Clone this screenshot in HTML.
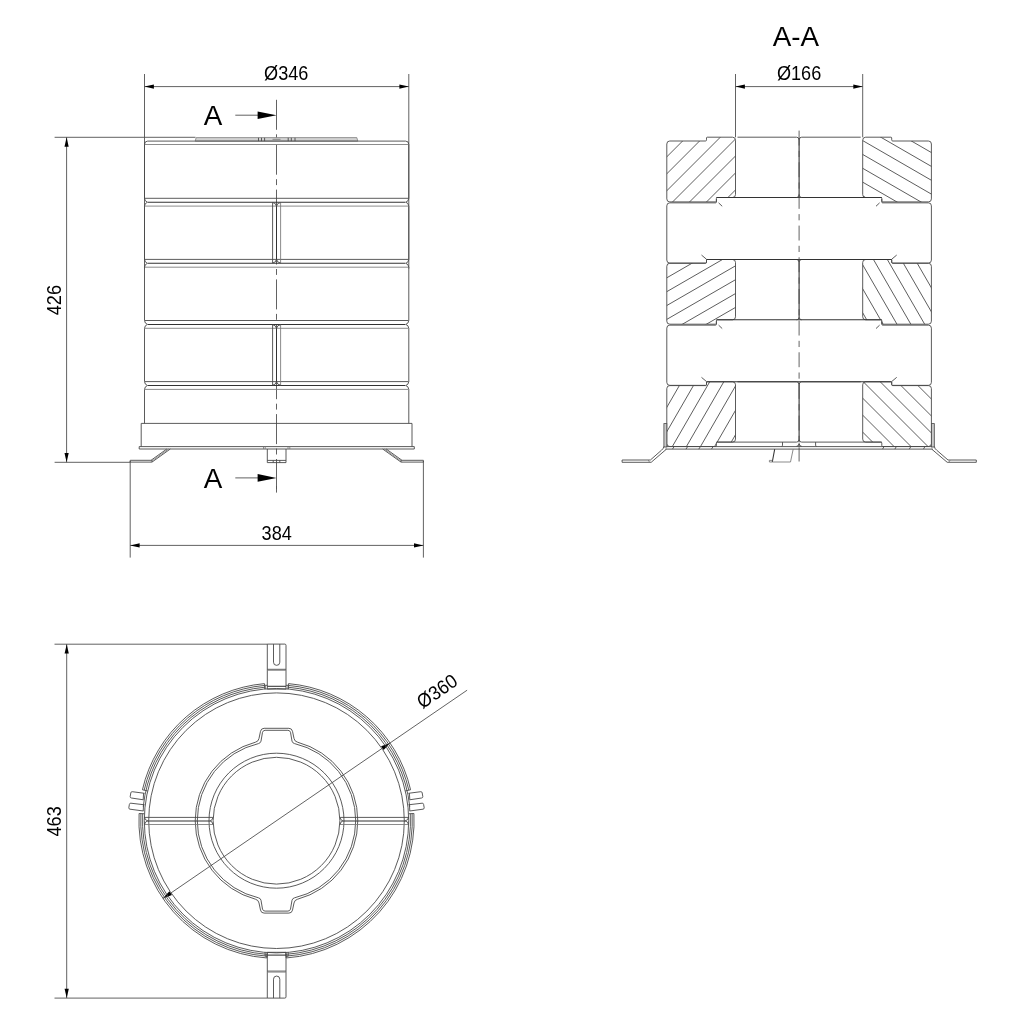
<!DOCTYPE html>
<html lang="en">
<head>
<meta charset="utf-8">
<title>Drawing</title>
<style>
html,body{margin:0;padding:0;background:#fff;}
body{width:1024px;height:1024px;overflow:hidden;}
svg{display:block;will-change:transform;}
.l{stroke:#484848;stroke-width:0.9;fill:none;stroke-linecap:butt;stroke-linejoin:round;}
.k{stroke:#333;stroke-width:1.05;fill:none;}
.f{stroke:#777;stroke-width:0.85;fill:none;}
.d{stroke:#505050;stroke-width:0.9;fill:none;}
.h{stroke:#404040;stroke-width:0.85;fill:none;}
.c{stroke:#505050;stroke-width:0.9;fill:none;stroke-dasharray:30.0 4.5 5.9 4.5;}
.c2{stroke:#505050;stroke-width:0.9;fill:none;stroke-dasharray:14.9 5.3 6.2 5.27;}
.m{stroke:#333;stroke-width:1.1;fill:none;}
.g{fill:#c9c9c9;stroke:#484848;stroke-width:0.8;}
.g2{fill:#d2d2d2;stroke:#808080;stroke-width:0.8;}
.a{fill:#000;stroke:none;}
.t{font-family:"Liberation Sans",sans-serif;fill:#000;}
</style>
</head>
<body>
<svg width="1024" height="1024" viewBox="0 0 1024 1024">
<rect x="0" y="0" width="1024" height="1024" fill="#ffffff"/>
<line class="d" x1="144.50" y1="74.00" x2="144.50" y2="268.50" />
<line class="d" x1="408.80" y1="74.00" x2="408.80" y2="268.50" />
<line class="d" x1="144.50" y1="86.60" x2="408.80" y2="86.60" />
<polygon class="a" points="144.50,86.60 153.90,84.50 153.90,88.70"/>
<polygon class="a" points="408.80,86.60 399.40,88.70 399.40,84.50"/>
<text class="t" transform="translate(286.20 79.90) scale(0.93 1)" font-size="19.5" text-anchor="middle">Ø346</text>
<line class="d" x1="54.60" y1="137.30" x2="195.50" y2="137.30" />
<line class="d" x1="54.60" y1="462.30" x2="130.30" y2="462.30" />
<line class="d" x1="66.60" y1="137.30" x2="66.60" y2="462.30" />
<polygon class="a" points="66.60,137.30 68.70,146.70 64.50,146.70"/>
<polygon class="a" points="66.60,462.30 64.50,452.90 68.70,452.90"/>
<text class="t" transform="translate(60.70 300.10) rotate(-90.00) scale(0.93 1)" font-size="19.5" text-anchor="middle">426</text>
<line class="d" x1="130.20" y1="461.00" x2="130.20" y2="557.60" />
<line class="d" x1="423.40" y1="461.00" x2="423.40" y2="557.60" />
<line class="d" x1="130.20" y1="545.40" x2="423.40" y2="545.40" />
<polygon class="a" points="130.20,545.40 139.60,543.30 139.60,547.50"/>
<polygon class="a" points="423.40,545.40 414.00,547.50 414.00,543.30"/>
<text class="t" transform="translate(276.70 539.50) scale(0.93 1)" font-size="19.5" text-anchor="middle">384</text>
<line class="d" x1="235.30" y1="115.20" x2="260.00" y2="115.20" />
<polygon class="a" points="276.50,115.20 257.60,119.00 257.60,111.40"/>
<text class="t" transform="translate(213.10 124.70) scale(1.0 1)" font-size="27.8" text-anchor="middle">A</text>
<line class="d" x1="235.30" y1="477.90" x2="260.00" y2="477.90" />
<polygon class="a" points="276.50,477.90 257.60,481.70 257.60,474.10"/>
<text class="t" transform="translate(213.10 487.70) scale(1.0 1)" font-size="27.8" text-anchor="middle">A</text>
<line class="c" x1="276.50" y1="99.80" x2="276.50" y2="492.20" />
<line class="d" x1="276.50" y1="486.00" x2="276.50" y2="492.60" />
<path class="g2" d="M195.2,141.1 L196.2,137.6 L356.8,137.6 L357.8,141.1 Z"/>
<line class="l" x1="258.50" y1="137.80" x2="258.50" y2="141.10" />
<line class="l" x1="261.50" y1="137.80" x2="261.50" y2="141.10" />
<line class="l" x1="264.60" y1="137.80" x2="264.60" y2="141.10" />
<line class="l" x1="288.20" y1="137.80" x2="288.20" y2="141.10" />
<line class="l" x1="291.30" y1="137.80" x2="291.30" y2="141.10" />
<line class="l" x1="295.00" y1="137.80" x2="295.00" y2="141.10" />
<line class="f" x1="272.50" y1="139.30" x2="280.50" y2="139.30" />
<path class="l" d="M147.7,141.1 Q144.5,141.1 144.5,144.5 L144.5,198.2 Q144.7,201.39999999999998 147.5,202.2 Q144.7,203.0 144.5,206.2 L144.5,259.3 Q144.7,262.5 147.5,263.3 Q144.7,264.1 144.5,267.3 L144.5,320.4 Q144.7,323.59999999999997 147.5,324.4 Q144.7,325.2 144.5,328.4 L144.5,381.5 Q144.7,384.7 147.5,385.5 Q144.7,386.3 144.5,389.5 L144.5,423.4" />
<path class="l" d="M405.6,141.1 Q408.8,141.1 408.8,144.5 L408.8,198.2 Q408.6,201.39999999999998 405.8,202.2 Q408.6,203.0 408.8,206.2 L408.8,259.3 Q408.6,262.5 405.8,263.3 Q408.6,264.1 408.8,267.3 L408.8,320.4 Q408.6,323.59999999999997 405.8,324.4 Q408.6,325.2 408.8,328.4 L408.8,381.5 Q408.6,384.7 405.8,385.5 Q408.6,386.3 408.8,389.5 L408.8,423.4" />
<line class="l" x1="147.70" y1="141.10" x2="405.60" y2="141.10" />
<line class="f" x1="144.80" y1="144.50" x2="408.50" y2="144.50" />
<line class="l" x1="144.80" y1="198.30" x2="408.50" y2="198.30" />
<line class="k" x1="147.90" y1="202.20" x2="405.40" y2="202.20" />
<line class="f" x1="144.80" y1="206.10" x2="408.50" y2="206.10" />
<line class="l" x1="144.80" y1="259.40" x2="408.50" y2="259.40" />
<line class="k" x1="147.90" y1="263.30" x2="405.40" y2="263.30" />
<line class="f" x1="144.80" y1="267.20" x2="408.50" y2="267.20" />
<line class="l" x1="144.80" y1="320.50" x2="408.50" y2="320.50" />
<line class="k" x1="147.90" y1="324.40" x2="405.40" y2="324.40" />
<line class="f" x1="144.80" y1="328.30" x2="408.50" y2="328.30" />
<line class="l" x1="144.80" y1="381.60" x2="408.50" y2="381.60" />
<line class="k" x1="147.90" y1="385.50" x2="405.40" y2="385.50" />
<line class="f" x1="144.80" y1="389.40" x2="408.50" y2="389.40" />
<line class="l" x1="272.60" y1="202.50" x2="272.60" y2="263.00" />
<line class="f" x1="280.60" y1="202.50" x2="280.60" y2="263.00" />
<path class="l" d="M272.6,202.5 Q275.9,202.79999999999998 276.5,206.2 Q277.1,202.79999999999998 280.6,202.5" />
<path class="l" d="M272.6,263.0 Q275.9,262.7 276.5,259.3 Q277.1,262.7 280.6,263.0" />
<line class="k" x1="276.50" y1="206.20" x2="276.50" y2="259.30" />
<line class="l" x1="272.60" y1="324.70" x2="272.60" y2="385.20" />
<line class="f" x1="280.60" y1="324.70" x2="280.60" y2="385.20" />
<path class="l" d="M272.6,324.7 Q275.9,325.0 276.5,328.4 Q277.1,325.0 280.6,324.7" />
<path class="l" d="M272.6,385.2 Q275.9,384.9 276.5,381.5 Q277.1,384.9 280.6,385.2" />
<line class="k" x1="276.50" y1="328.40" x2="276.50" y2="381.50" />
<path class="l" d="M141.2,423.4 L412.0,423.4 L412.0,446.6 M141.2,423.4 L141.2,446.6" />
<path class="l" d="M139.2,446.6 L414.3,446.6 L414.3,449.0 L139.2,449.0 Z" />
<path class="l" d="M170.3,449.0 L152.0,462.1 L130.2,462.1 L130.2,460.3 L151.0,460.3 L166.8,449.0" />
<line class="l" x1="151.00" y1="460.30" x2="152.60" y2="461.60" />
<line class="f" x1="168.60" y1="449.00" x2="150.80" y2="461.80" />
<path class="l" d="M382.7,449.0 L401.0,462.1 L423.4,462.1 L423.4,460.3 L402.0,460.3 L386.2,449.0" />
<line class="l" x1="402.00" y1="460.30" x2="400.40" y2="461.60" />
<line class="f" x1="384.40" y1="449.00" x2="402.20" y2="461.80" />
<path class="l" d="M267.3,449.0 L267.3,462.6 L286.0,462.6 L286.0,449.0" />
<line class="l" x1="267.30" y1="460.40" x2="286.00" y2="460.40" />
<line class="l" x1="273.20" y1="460.40" x2="273.20" y2="462.60" />
<line class="l" x1="279.80" y1="460.40" x2="279.80" y2="462.60" />
<line class="f" x1="263.50" y1="446.60" x2="263.50" y2="449.00" />
<line class="f" x1="265.20" y1="446.60" x2="265.20" y2="449.00" />
<line class="f" x1="288.00" y1="446.60" x2="288.00" y2="449.00" />
<line class="f" x1="289.80" y1="446.60" x2="289.80" y2="449.00" />
<text class="t" transform="translate(795.80 46.30) scale(1.0 1)" font-size="27.8" text-anchor="middle">A-A</text>
<text class="t" transform="translate(799.10 79.80) scale(0.93 1)" font-size="19.5" text-anchor="middle">Ø166</text>
<line class="d" x1="735.50" y1="74.00" x2="735.50" y2="137.30" />
<line class="d" x1="862.70" y1="74.00" x2="862.70" y2="137.30" />
<line class="d" x1="735.50" y1="86.60" x2="862.70" y2="86.60" />
<polygon class="a" points="735.50,86.60 744.90,84.50 744.90,88.70"/>
<polygon class="a" points="862.70,86.60 853.30,88.70 853.30,84.50"/>
<defs>
<clipPath id="c0l"><path d="M666.8,144.0 Q666.8,141.0 669.8,141.0 L705.5,141.0 Q706.5,141.0 706.5,139.8 L706.5,138.0 Q706.5,137.2 707.3,137.2 L732.5,137.2 Q735.5,137.2 735.5,140.2 L735.5,194.5 Q735.5,197.5 732.5,197.5 L717.4,197.5 Q716.4,197.5 716.4,198.5 L716.4,201.1 Q716.4,201.9 715.6,201.9 L669.8,201.9 Q666.8,201.9 666.8,198.9 Z"/></clipPath>
<clipPath id="c0r"><path d="M931.4000000000001,144.0 Q931.4000000000001,141.0 928.4000000000001,141.0 L892.7,141.0 Q891.7,141.0 891.7,139.8 L891.7,138.0 Q891.7,137.2 890.9000000000001,137.2 L865.7,137.2 Q862.7,137.2 862.7,140.2 L862.7,194.5 Q862.7,197.5 865.7,197.5 L880.8000000000001,197.5 Q881.8000000000001,197.5 881.8000000000001,198.5 L881.8000000000001,201.1 Q881.8000000000001,201.9 882.6,201.9 L928.4000000000001,201.9 Q931.4000000000001,201.9 931.4000000000001,198.9 Z"/></clipPath>
<clipPath id="c2l"><path d="M666.8,266.3 Q666.8,263.3 669.8,263.3 L705.5,263.3 Q706.5,263.3 706.5,262.1 L706.5,260.3 Q706.5,259.5 707.3,259.5 L732.5,259.5 Q735.5,259.5 735.5,262.5 L735.5,316.8 Q735.5,319.8 732.5,319.8 L717.4,319.8 Q716.4,319.8 716.4,320.8 L716.4,323.4 Q716.4,324.2 715.6,324.2 L669.8,324.2 Q666.8,324.2 666.8,321.2 Z"/></clipPath>
<clipPath id="c2r"><path d="M931.4000000000001,266.3 Q931.4000000000001,263.3 928.4000000000001,263.3 L892.7,263.3 Q891.7,263.3 891.7,262.1 L891.7,260.3 Q891.7,259.5 890.9000000000001,259.5 L865.7,259.5 Q862.7,259.5 862.7,262.5 L862.7,316.8 Q862.7,319.8 865.7,319.8 L880.8000000000001,319.8 Q881.8000000000001,319.8 881.8000000000001,320.8 L881.8000000000001,323.4 Q881.8000000000001,324.2 882.6,324.2 L928.4000000000001,324.2 Q931.4000000000001,324.2 931.4000000000001,321.2 Z"/></clipPath>
<clipPath id="c4l"><path d="M666.8,388.6 Q666.8,385.6 669.8,385.6 L705.5,385.6 Q706.5,385.6 706.5,384.40000000000003 L706.5,382.6 Q706.5,381.8 707.3,381.8 L732.5,381.8 Q735.5,381.8 735.5,384.8 L735.5,439.1 Q735.5,442.1 732.5,442.1 L717.4,442.1 Q716.4,442.1 716.4,443.1 L716.4,445.7 Q716.4,446.5 715.6,446.5 L669.8,446.5 Q666.8,446.5 666.8,443.5 Z"/></clipPath>
<clipPath id="c4r"><path d="M931.4000000000001,388.6 Q931.4000000000001,385.6 928.4000000000001,385.6 L892.7,385.6 Q891.7,385.6 891.7,384.40000000000003 L891.7,382.6 Q891.7,381.8 890.9000000000001,381.8 L865.7,381.8 Q862.7,381.8 862.7,384.8 L862.7,439.1 Q862.7,442.1 865.7,442.1 L880.8000000000001,442.1 Q881.8000000000001,442.1 881.8000000000001,443.1 L881.8000000000001,445.7 Q881.8000000000001,446.5 882.6,446.5 L928.4000000000001,446.5 Q931.4000000000001,446.5 931.4000000000001,443.5 Z"/></clipPath>
</defs>
<path class="h" clip-path="url(#c0l)" d="M441.74,144.27 L653.87,-67.86 M450.23,152.76 L662.36,-59.37 M458.71,161.24 L670.84,-50.89 M467.20,169.73 L679.33,-42.40 M475.68,178.21 L687.81,-33.92 M484.17,186.70 L696.30,-25.43 M492.65,195.18 L704.78,-16.95 M501.14,203.67 L713.27,-8.46 M509.62,212.15 L721.75,0.02 M518.11,220.64 L730.24,8.51 M526.59,229.12 L738.72,16.99 M535.08,237.61 L747.21,25.48 M543.56,246.10 L755.70,33.96 M552.05,254.58 L764.18,42.45 M560.53,263.07 L772.67,50.93 M569.02,271.55 L781.15,59.42 M577.50,280.04 L789.64,67.90 M585.99,288.52 L798.12,76.39 M594.48,297.01 L806.61,84.88 M602.96,305.49 L815.09,93.36 M611.45,313.98 L823.58,101.85 M619.93,322.46 L832.06,110.33 M628.42,330.95 L840.55,118.82 M636.90,339.43 L849.03,127.30 M645.39,347.92 L857.52,135.79 M653.87,356.40 L866.00,144.27 M662.36,364.89 L874.49,152.76 M670.84,373.37 L882.97,161.24 M679.33,381.86 L891.46,169.73"/>
<path class="l" d="M666.8,144.0 Q666.8,141.0 669.8,141.0 L705.5,141.0 Q706.5,141.0 706.5,139.8 L706.5,138.0 Q706.5,137.2 707.3,137.2 L732.5,137.2 Q735.5,137.2 735.5,140.2 L735.5,194.5 Q735.5,197.5 732.5,197.5 L717.4,197.5 Q716.4,197.5 716.4,198.5 L716.4,201.1 Q716.4,201.9 715.6,201.9 L669.8,201.9 Q666.8,201.9 666.8,198.9 Z" />
<path class="h" clip-path="url(#c0r)" d="M816.80,-79.89 L1076.60,70.11 M810.80,-69.50 L1070.60,80.50 M804.80,-59.11 L1064.60,90.89 M798.80,-48.72 L1058.60,101.28 M792.80,-38.32 L1052.60,111.68 M786.80,-27.93 L1046.60,122.07 M780.80,-17.54 L1040.60,132.46 M774.80,-7.15 L1034.60,142.85 M768.80,3.25 L1028.60,153.25 M762.80,13.64 L1022.60,163.64 M756.80,24.03 L1016.60,174.03 M750.80,34.42 L1010.60,184.42 M744.80,44.82 L1004.60,194.82 M738.80,55.21 L998.60,205.21 M732.80,65.60 L992.60,215.60 M726.80,75.99 L986.60,225.99 M720.80,86.38 L980.60,236.38 M714.80,96.78 L974.60,246.78 M708.80,107.17 L968.60,257.17 M702.80,117.56 L962.60,267.56 M696.80,127.95 L956.60,277.95 M690.80,138.35 L950.60,288.35 M684.80,148.74 L944.60,298.74 M678.80,159.13 L938.60,309.13 M672.80,169.52 L932.60,319.52 M666.80,179.92 L926.60,329.92 M660.80,190.31 L920.60,340.31 M654.80,200.70 L914.60,350.70 M648.80,211.09 L908.60,361.09"/>
<path class="l" d="M931.4000000000001,144.0 Q931.4000000000001,141.0 928.4000000000001,141.0 L892.7,141.0 Q891.7,141.0 891.7,139.8 L891.7,138.0 Q891.7,137.2 890.9000000000001,137.2 L865.7,137.2 Q862.7,137.2 862.7,140.2 L862.7,194.5 Q862.7,197.5 865.7,197.5 L880.8000000000001,197.5 Q881.8000000000001,197.5 881.8000000000001,198.5 L881.8000000000001,201.1 Q881.8000000000001,201.9 882.6,201.9 L928.4000000000001,201.9 Q931.4000000000001,201.9 931.4000000000001,198.9 Z" />
<line class="l" x1="737.50" y1="137.20" x2="796.50" y2="137.20" />
<line class="l" x1="801.70" y1="137.20" x2="860.70" y2="137.20" />
<line class="k" x1="716.40" y1="197.50" x2="881.80" y2="197.50" />
<line class="m" x1="799.10" y1="138.20" x2="799.10" y2="196.50" />
<path class="l" d="M796.5,137.2 Q798.8000000000001,137.2 798.9,139.39999999999998 M801.7,137.2 Q799.4,137.2 799.3000000000001,139.39999999999998" />
<path class="l" d="M796.5,197.5 Q798.8000000000001,197.5 798.9,195.3 M801.7,197.5 Q799.4,197.5 799.3000000000001,195.3" />
<path class="l" d="M716.4,199.04999999999998 L716.4,202.04999999999998 Q716.4,202.85 715.6,202.85 L669.8,202.85 Q666.8,202.85 666.8,205.85 L666.8,260.05 Q666.8,263.05 669.8,263.05 L705.7,263.05 Q706.5,263.05 706.5,262.25 L706.5,259.65" />
<line class="l" x1="718.60" y1="202.85" x2="722.20" y2="206.25" />
<line class="l" x1="706.50" y1="259.25" x2="701.50" y2="255.05" />
<path class="l" d="M881.8000000000001,199.04999999999998 L881.8000000000001,202.04999999999998 Q881.8000000000001,202.85 882.6,202.85 L928.4000000000001,202.85 Q931.4000000000001,202.85 931.4000000000001,205.85 L931.4000000000001,260.05 Q931.4000000000001,263.05 928.4000000000001,263.05 L892.5,263.05 Q891.7,263.05 891.7,262.25 L891.7,259.65" />
<line class="l" x1="879.60" y1="202.85" x2="876.00" y2="206.25" />
<line class="l" x1="891.70" y1="259.25" x2="896.70" y2="255.05" />
<path class="h" clip-path="url(#c2l)" d="M452.90,207.31 L712.70,57.31 M458.90,217.70 L718.70,67.70 M464.90,228.09 L724.70,78.09 M470.90,238.48 L730.70,88.48 M476.90,248.88 L736.70,98.88 M482.90,259.27 L742.70,109.27 M488.90,269.66 L748.70,119.66 M494.90,280.05 L754.70,130.05 M500.90,290.45 L760.70,140.45 M506.90,300.84 L766.70,150.84 M512.90,311.23 L772.70,161.23 M518.90,321.62 L778.70,171.62 M524.90,332.02 L784.70,182.02 M530.90,342.41 L790.70,192.41 M536.90,352.80 L796.70,202.80 M542.90,363.19 L802.70,213.19 M548.90,373.58 L808.70,223.58 M554.90,383.98 L814.70,233.98 M560.90,394.37 L820.70,244.37 M566.90,404.76 L826.70,254.76 M572.90,415.15 L832.70,265.15 M578.90,425.55 L838.70,275.55 M584.90,435.94 L844.70,285.94 M590.90,446.33 L850.70,296.33 M596.90,456.72 L856.70,306.72 M602.90,467.12 L862.70,317.12 M608.90,477.51 L868.70,327.51 M614.90,487.90 L874.70,337.90 M620.90,498.29 L880.70,348.29"/>
<path class="l" d="M666.8,266.3 Q666.8,263.3 669.8,263.3 L705.5,263.3 Q706.5,263.3 706.5,262.1 L706.5,260.3 Q706.5,259.5 707.3,259.5 L732.5,259.5 Q735.5,259.5 735.5,262.5 L735.5,316.8 Q735.5,319.8 732.5,319.8 L717.4,319.8 Q716.4,319.8 716.4,320.8 L716.4,323.4 Q716.4,324.2 715.6,324.2 L669.8,324.2 Q666.8,324.2 666.8,321.2 Z" />
<path class="h" clip-path="url(#c2r)" d="M932.99,50.60 L1082.99,310.40 M922.60,56.60 L1072.60,316.40 M912.21,62.60 L1062.21,322.40 M901.82,68.60 L1051.82,328.40 M891.42,74.60 L1041.42,334.40 M881.03,80.60 L1031.03,340.40 M870.64,86.60 L1020.64,346.40 M860.25,92.60 L1010.25,352.40 M849.85,98.60 L999.85,358.40 M839.46,104.60 L989.46,364.40 M829.07,110.60 L979.07,370.40 M818.68,116.60 L968.68,376.40 M808.28,122.60 L958.28,382.40 M797.89,128.60 L947.89,388.40 M787.50,134.60 L937.50,394.40 M777.11,140.60 L927.11,400.40 M766.72,146.60 L916.72,406.40 M756.32,152.60 L906.32,412.40 M745.93,158.60 L895.93,418.40 M735.54,164.60 L885.54,424.40 M725.15,170.60 L875.15,430.40 M714.75,176.60 L864.75,436.40 M704.36,182.60 L854.36,442.40 M693.97,188.60 L843.97,448.40 M683.58,194.60 L833.58,454.40 M673.18,200.60 L823.18,460.40 M662.79,206.60 L812.79,466.40 M652.40,212.60 L802.40,472.40 M642.01,218.60 L792.01,478.40"/>
<path class="l" d="M931.4000000000001,266.3 Q931.4000000000001,263.3 928.4000000000001,263.3 L892.7,263.3 Q891.7,263.3 891.7,262.1 L891.7,260.3 Q891.7,259.5 890.9000000000001,259.5 L865.7,259.5 Q862.7,259.5 862.7,262.5 L862.7,316.8 Q862.7,319.8 865.7,319.8 L880.8000000000001,319.8 Q881.8000000000001,319.8 881.8000000000001,320.8 L881.8000000000001,323.4 Q881.8000000000001,324.2 882.6,324.2 L928.4000000000001,324.2 Q931.4000000000001,324.2 931.4000000000001,321.2 Z" />
<line class="l" x1="737.50" y1="259.50" x2="796.50" y2="259.50" />
<line class="l" x1="801.70" y1="259.50" x2="860.70" y2="259.50" />
<line class="k" x1="716.40" y1="319.80" x2="881.80" y2="319.80" />
<line class="m" x1="799.10" y1="260.50" x2="799.10" y2="318.80" />
<path class="l" d="M796.5,259.5 Q798.8000000000001,259.5 798.9,261.7 M801.7,259.5 Q799.4,259.5 799.3000000000001,261.7" />
<path class="l" d="M796.5,319.8 Q798.8000000000001,319.8 798.9,317.6 M801.7,319.8 Q799.4,319.8 799.3000000000001,317.6" />
<path class="l" d="M716.4,321.35 L716.4,324.34999999999997 Q716.4,325.15 715.6,325.15 L669.8,325.15 Q666.8,325.15 666.8,328.15 L666.8,382.35 Q666.8,385.35 669.8,385.35 L705.7,385.35 Q706.5,385.35 706.5,384.55 L706.5,381.95" />
<line class="l" x1="718.60" y1="325.15" x2="722.20" y2="328.55" />
<line class="l" x1="706.50" y1="381.55" x2="701.50" y2="377.35" />
<path class="l" d="M881.8000000000001,321.35 L881.8000000000001,324.34999999999997 Q881.8000000000001,325.15 882.6,325.15 L928.4000000000001,325.15 Q931.4000000000001,325.15 931.4000000000001,328.15 L931.4000000000001,382.35 Q931.4000000000001,385.35 928.4000000000001,385.35 L892.5,385.35 Q891.7,385.35 891.7,384.55 L891.7,381.95" />
<line class="l" x1="879.60" y1="325.15" x2="876.00" y2="328.55" />
<line class="l" x1="891.70" y1="381.55" x2="896.70" y2="377.35" />
<path class="h" clip-path="url(#c4l)" d="M477.78,490.70 L627.78,230.90 M488.35,496.80 L638.35,237.00 M498.91,502.90 L648.91,243.10 M509.48,509.00 L659.48,249.20 M520.04,515.10 L670.04,255.30 M530.61,521.20 L680.61,261.40 M541.18,527.30 L691.18,267.50 M551.74,533.40 L701.74,273.60 M562.31,539.50 L712.31,279.70 M572.87,545.60 L722.87,285.80 M583.44,551.70 L733.44,291.90 M594.00,557.80 L744.00,298.00 M604.57,563.90 L754.57,304.10 M615.13,570.00 L765.13,310.20 M625.70,576.10 L775.70,316.30 M636.27,582.20 L786.27,322.40 M646.83,588.30 L796.83,328.50 M657.40,594.40 L807.40,334.60 M667.96,600.50 L817.96,340.70 M678.53,606.60 L828.53,346.80 M689.09,612.70 L839.09,352.90 M699.66,618.80 L849.66,359.00 M710.22,624.90 L860.22,365.10 M720.79,631.00 L870.79,371.20 M731.36,637.10 L881.36,377.30 M741.92,643.20 L891.92,383.40 M752.49,649.30 L902.49,389.50 M763.05,655.40 L913.05,395.60 M773.62,661.50 L923.62,401.70"/>
<path class="l" d="M666.8,388.6 Q666.8,385.6 669.8,385.6 L705.5,385.6 Q706.5,385.6 706.5,384.40000000000003 L706.5,382.6 Q706.5,381.8 707.3,381.8 L732.5,381.8 Q735.5,381.8 735.5,384.8 L735.5,439.1 Q735.5,442.1 732.5,442.1 L717.4,442.1 Q716.4,442.1 716.4,443.1 L716.4,445.7 Q716.4,446.5 715.6,446.5 L669.8,446.5 Q666.8,446.5 666.8,443.5 Z" />
<path class="h" clip-path="url(#c4r)" d="M875.23,173.14 L1087.36,385.27 M866.74,181.63 L1078.87,393.76 M858.26,190.11 L1070.39,402.24 M849.77,198.60 L1061.90,410.73 M841.29,207.08 L1053.42,419.21 M832.80,215.57 L1044.93,427.70 M824.32,224.05 L1036.45,436.18 M815.83,232.54 L1027.96,444.67 M807.35,241.02 L1019.48,453.15 M798.86,249.51 L1010.99,461.64 M790.38,257.99 L1002.51,470.12 M781.89,266.48 L994.02,478.61 M773.40,274.96 L985.54,487.10 M764.92,283.45 L977.05,495.58 M756.43,291.93 L968.57,504.07 M747.95,300.42 L960.08,512.55 M739.46,308.90 L951.60,521.04 M730.98,317.39 L943.11,529.52 M722.49,325.88 L934.62,538.01 M714.01,334.36 L926.14,546.49 M705.52,342.85 L917.65,554.98 M697.04,351.33 L909.17,563.46 M688.55,359.82 L900.68,571.95 M680.07,368.30 L892.20,580.43 M671.58,376.79 L883.71,588.92 M663.10,385.27 L875.23,597.40 M654.61,393.76 L866.74,605.89 M646.13,402.24 L858.26,614.37 M637.64,410.73 L849.77,622.86"/>
<path class="l" d="M931.4000000000001,388.6 Q931.4000000000001,385.6 928.4000000000001,385.6 L892.7,385.6 Q891.7,385.6 891.7,384.40000000000003 L891.7,382.6 Q891.7,381.8 890.9000000000001,381.8 L865.7,381.8 Q862.7,381.8 862.7,384.8 L862.7,439.1 Q862.7,442.1 865.7,442.1 L880.8000000000001,442.1 Q881.8000000000001,442.1 881.8000000000001,443.1 L881.8000000000001,445.7 Q881.8000000000001,446.5 882.6,446.5 L928.4000000000001,446.5 Q931.4000000000001,446.5 931.4000000000001,443.5 Z" />
<line class="l" x1="737.50" y1="381.80" x2="796.50" y2="381.80" />
<line class="l" x1="801.70" y1="381.80" x2="860.70" y2="381.80" />
<line class="m" x1="799.10" y1="382.80" x2="799.10" y2="441.10" />
<path class="l" d="M796.5,381.8 Q798.8000000000001,381.8 798.9,384.0 M801.7,381.8 Q799.4,381.8 799.3000000000001,384.0" />
<path class="l" d="M796.5,442.1 Q798.8000000000001,442.1 798.9,439.90000000000003 M801.7,442.1 Q799.4,442.1 799.3000000000001,439.90000000000003" />
<line class="k" x1="706.50" y1="259.50" x2="891.70" y2="259.50" />
<line class="k" x1="706.50" y1="381.80" x2="891.70" y2="381.80" />
<path class="l" d="M716.4,442.1 L796.5,442.1 M801.7,442.1 L881.8000000000001,442.1 M782.5,442.1 L782.5,445.6 Q782.5,446.3 781.5,446.3 M815.6,442.1 L815.6,445.6 Q815.6,446.3 816.6,446.3" />
<path class="l" d="M796.5,446.3 Q798.8000000000001,446.3 798.9,444.0 M801.7,446.3 Q799.4,446.3 799.3000000000001,444.0" />
<line class="l" x1="799.10" y1="442.60" x2="799.10" y2="446.30" />
<line class="c2" x1="799.10" y1="130.60" x2="799.10" y2="461.50" />
<path class="l" d="M663.9,446.6 L934.3000000000001,446.6 M665.3,449.1 L932.9000000000001,449.1" />
<rect class="g" x="663.90" y="423.6" width="2.9" height="23.4"/>
<rect class="g" x="931.40" y="423.6" width="2.9" height="23.4"/>
<path class="l" d="M663.9,446.6 Q663.1,449.2 661.5,450.2 L650.4,460.0 L622.1,460.0 L622.1,462.3 L651.2,462.3 L666.5,449.1" />
<line class="f" x1="648.20" y1="460.00" x2="649.60" y2="462.30" />
<path class="l" d="M934.3000000000001,446.6 Q935.1,449.2 936.7,450.2 L948.0,460.0 L976.3,460.0 L976.3,462.3 L947.2,462.3 L931.7,449.1" />
<line class="f" x1="950.20" y1="460.00" x2="948.80" y2="462.30" />
<line class="h" x1="672.50" y1="449.10" x2="674.10" y2="446.60" />
<line class="h" x1="686.00" y1="449.10" x2="687.60" y2="446.60" />
<line class="h" x1="698.80" y1="449.10" x2="700.40" y2="446.60" />
<line class="h" x1="711.50" y1="449.10" x2="713.10" y2="446.60" />
<line class="h" x1="884.00" y1="446.60" x2="882.60" y2="449.10" />
<line class="h" x1="896.30" y1="446.60" x2="894.90" y2="449.10" />
<line class="h" x1="910.80" y1="446.60" x2="909.40" y2="449.10" />
<line class="h" x1="924.90" y1="446.60" x2="923.50" y2="449.10" />
<path class="k" d="M774.7,449.1 L772.3,462.0" />
<path class="f" d="M772.3,462.0 L790.5,462.0 L793.2,449.1" />
<path class="f" d="M772.3,462.0 L769.4,462.0 L769.4,460.4 L772.4,460.4" />
<line class="d" x1="54.50" y1="644.20" x2="267.30" y2="644.20" />
<line class="d" x1="54.50" y1="998.10" x2="267.30" y2="998.10" />
<line class="d" x1="66.70" y1="644.20" x2="66.70" y2="998.10" />
<polygon class="a" points="66.70,644.20 68.80,653.60 64.60,653.60"/>
<polygon class="a" points="66.70,998.10 64.60,988.70 68.80,988.70"/>
<text class="t" transform="translate(60.70 821.40) rotate(-90.00) scale(0.93 1)" font-size="19.5" text-anchor="middle">463</text>
<line class="d" x1="162.88" y1="898.50" x2="467.10" y2="690.19" />
<polygon class="a" points="390.12,742.90 383.66,750.11 381.06,746.32"/>
<polygon class="a" points="162.88,898.50 169.34,891.29 171.94,895.08"/>
<text class="t" transform="translate(440.86 696.65) rotate(-34.40) scale(0.93 1)" font-size="19.5" text-anchor="middle">Ø360</text>
<circle class="l" cx="276.50" cy="820.70" r="63.40" />
<circle class="l" cx="276.50" cy="820.70" r="67.50" />
<path class="l" d="M255.50,742.16 Q258.50,741.42 259.00,738.42 L260.50,731.30 Q261.10,728.30 264.10,728.30 L288.90,728.30 Q291.90,728.30 292.50,731.30 L294.00,738.42 Q294.50,741.42 297.50,742.16 A81.30,81.30 0 0 1 297.50,899.24 Q294.50,899.98 294.00,902.98 L292.50,910.10 Q291.90,913.10 288.90,913.10 L264.10,913.10 Q261.10,913.10 260.50,910.10 L259.00,902.98 Q258.50,899.98 255.50,899.24 A81.30,81.30 0 0 1 255.50,742.16 Z" />
<path class="l" d="M258.50,743.57 Q260.50,743.13 261.00,741.13 L262.50,732.30 Q263.10,730.30 265.10,730.30 L287.90,730.30 Q289.90,730.30 290.50,732.30 L292.00,741.13 Q292.50,743.13 294.50,743.57 A79.20,79.20 0 0 1 294.50,897.83 Q292.50,898.27 292.00,900.27 L290.50,909.10 Q289.90,911.10 287.90,911.10 L265.10,911.10 Q263.10,911.10 262.50,909.10 L261.00,900.27 Q260.50,898.27 258.50,897.83 A79.20,79.20 0 0 1 258.50,743.57 Z" />
<circle class="l" cx="276.50" cy="820.70" r="127.80" />
<circle class="l" cx="276.50" cy="820.70" r="132.20" />
<path class="l" d="M410.32,813.69 A134.00,134.00 0 0 1 285.91,954.37" />
<path class="l" d="M267.09,954.37 A134.00,134.00 0 0 1 142.68,813.69" />
<path class="l" d="M143.23,806.69 A134.00,134.00 0 0 1 264.76,687.22" />
<path class="l" d="M288.24,687.22 A134.00,134.00 0 0 1 409.77,806.69" />
<path class="l" d="M412.11,813.59 A135.80,135.80 0 0 1 286.03,956.17" />
<path class="l" d="M266.97,956.17 A135.80,135.80 0 0 1 140.89,813.59" />
<path class="l" d="M144.18,790.15 A135.80,135.80 0 0 1 264.61,685.42" />
<path class="l" d="M288.39,685.42 A135.80,135.80 0 0 1 408.82,790.15" />
<path class="l" d="M413.91,813.50 A137.60,137.60 0 0 1 286.16,957.96" />
<path class="l" d="M266.84,957.96 A137.60,137.60 0 0 1 139.09,813.50" />
<path class="l" d="M142.43,789.75 A137.60,137.60 0 0 1 264.45,683.63" />
<path class="l" d="M288.55,683.63 A137.60,137.60 0 0 1 410.57,789.75" />
<line class="l" x1="285.78" y1="952.57" x2="286.16" y2="957.96" />
<line class="l" x1="267.22" y1="952.57" x2="266.84" y2="957.96" />
<line class="l" x1="264.92" y1="689.01" x2="264.45" y2="683.63" />
<line class="l" x1="288.08" y1="689.01" x2="288.55" y2="683.63" />
<line class="l" x1="144.48" y1="813.78" x2="139.09" y2="813.50" />
<line class="l" x1="147.69" y1="790.96" x2="142.43" y2="789.75" />
<line class="l" x1="408.52" y1="813.78" x2="413.91" y2="813.50" />
<line class="l" x1="405.31" y1="790.96" x2="410.57" y2="789.75" />
<line class="l" x1="144.50" y1="817.40" x2="212.90" y2="817.40" />
<line class="k" x1="147.70" y1="820.90" x2="210.30" y2="820.90" />
<line class="f" x1="144.50" y1="824.50" x2="212.90" y2="824.50" />
<path class="l" d="M144.5,817.4 Q144.9,820.4 147.9,820.9 Q144.9,821.4 144.5,824.5" />
<path class="l" d="M212.9,817.4 Q212.5,820.4 210.1,820.9 Q212.5,821.4 212.9,824.5" />
<line class="l" x1="408.50" y1="817.40" x2="340.10" y2="817.40" />
<line class="k" x1="405.30" y1="820.90" x2="342.70" y2="820.90" />
<line class="f" x1="408.50" y1="824.50" x2="340.10" y2="824.50" />
<path class="l" d="M408.5,817.4 Q408.1,820.4 405.1,820.9 Q408.1,821.4 408.5,824.5" />
<path class="l" d="M340.1,817.4 Q340.5,820.4 342.90000000000003,820.9 Q340.5,821.4 340.1,824.5" />
<path class="l" d="M144.6,793.3000000000001 L132.2,791.7 Q131.0,791.6 130.79999999999998,792.9000000000001 L130.2,796.6 Q130.1,797.8000000000001 131.4,798.0 L143.4,799.8000000000001" />
<line class="l" x1="143.60" y1="793.10" x2="143.20" y2="799.80" />
<path class="l" d="M144.6,804.8000000000001 L130.79999999999998,803.2 Q129.6,803.1 129.39999999999998,804.4000000000001 L128.79999999999998,807.8 Q128.7,809.0 130.0,809.1999999999999 L143.4,811.0" />
<line class="l" x1="143.60" y1="804.60" x2="143.20" y2="811.00" />
<path class="l" d="M408.4,793.3000000000001 L420.8,791.7 Q422.0,791.6 422.20000000000005,792.9000000000001 L422.8,796.6 Q422.9,797.8000000000001 421.6,798.0 L409.6,799.8000000000001" />
<line class="l" x1="409.40" y1="793.10" x2="409.80" y2="799.80" />
<path class="l" d="M408.4,804.8000000000001 L422.20000000000005,803.2 Q423.4,803.1 423.6,804.4000000000001 L424.20000000000005,807.8 Q424.3,809.0 423.0,809.1999999999999 L409.6,811.0" />
<line class="l" x1="409.40" y1="804.60" x2="409.80" y2="811.00" />
<path class="l" d="M267.3,689.1 L267.3,644.1 L284.8,644.1 Q286.0,644.1 286.0,645.3000000000001 L286.0,689.1 Z" />
<line class="k" x1="267.30" y1="686.30" x2="286.00" y2="686.30" />
<line class="l" x1="267.30" y1="669.30" x2="286.00" y2="669.30" />
<line class="f" x1="267.30" y1="670.30" x2="286.00" y2="670.30" />
<path class="l" d="M273.5,644.1 L273.5,662.2 A3.15,3.15 0 0 0 279.8,662.2 L279.8,644.1" />
<line class="l" x1="265.10" y1="689.10" x2="265.10" y2="685.30" />
<line class="l" x1="288.20" y1="689.10" x2="288.20" y2="685.30" />
<line class="l" x1="265.10" y1="685.30" x2="267.30" y2="685.30" />
<line class="l" x1="286.00" y1="685.30" x2="288.20" y2="685.30" />
<path class="l" d="M267.3,952.3000000000001 L267.3,998.1 L284.8,998.1 Q286.0,998.1 286.0,996.9 L286.0,952.3000000000001 Z" />
<line class="k" x1="267.30" y1="955.10" x2="286.00" y2="955.10" />
<line class="l" x1="267.30" y1="971.10" x2="286.00" y2="971.10" />
<line class="f" x1="267.30" y1="972.10" x2="286.00" y2="972.10" />
<path class="l" d="M273.5,998.1 L273.5,979.2 A3.15,3.15 0 0 1 279.8,979.2 L279.8,998.1" />
<line class="l" x1="265.10" y1="952.30" x2="265.10" y2="956.10" />
<line class="l" x1="288.20" y1="952.30" x2="288.20" y2="956.10" />
<line class="l" x1="265.10" y1="956.10" x2="267.30" y2="956.10" />
<line class="l" x1="286.00" y1="956.10" x2="288.20" y2="956.10" />
</svg>
</body>
</html>
